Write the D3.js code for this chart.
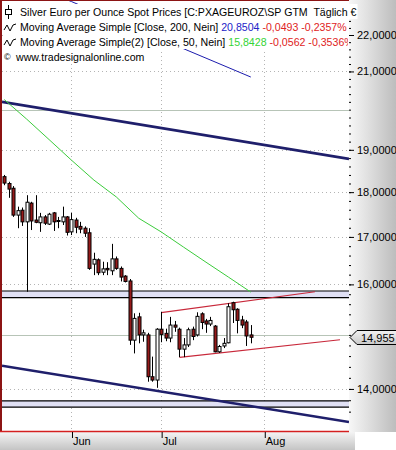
<!DOCTYPE html>
<html>

<head>
  <meta charset="UTF-8">
  <script src="https://d3js.org/d3.v7.js"></script>
  <style>
    body { margin: 0; background: #fff; }
    text { font-family: "Liberation Sans", Arial, sans-serif; font-size: 11px; }
  </style>
</head>

<body>
  <div id="chart"></div>

  <script>
    // data: silver in EUR per ounce, daily bars from Mon 13 May 2013

    const startDate = new Date(2013, 4, 13);

    const open = [18.36, 18.20, 18.09, 17.48, 17.59, 17.33, 17.75, 17.37, 17.31, 17.44,
      17.28, 17.53, 17.36, 17.33, 17.44, 17.11, 17.37, 17.23, 17.19, 17.09,
      16.42, 16.51, 16.25, 16.33, 16.28, 16.53, 16.33, 16.17, 16.07, 14.90,
      15.35, 15.00, 15.00, 14.22, 14.16, 15.11, 15.03, 14.94, 15.19, 15.11,
      14.73, 14.81, 15.11, 15.00, 15.41, 15.27, 15.21, 15.17, 14.68, 14.79,
      14.85, 15.63, 15.50, 15.29, 15.25, 15.00];
    const high = [18.40, 18.24, 18.14, 17.67, 17.65, 17.93, 17.78, 17.93, 17.53, 17.48,
      17.53, 17.55, 17.44, 17.67, 17.46, 17.53, 17.42, 17.33, 17.23, 17.19,
      16.66, 16.54, 16.47, 16.46, 16.85, 16.58, 16.37, 16.19, 16.11, 15.42,
      15.43, 15.10, 15.04, 14.59, 15.13, 15.45, 15.12, 15.35, 15.27, 15.14,
      14.94, 15.14, 15.16, 15.44, 15.44, 15.31, 15.35, 15.19, 14.81, 14.94,
      15.62, 15.65, 15.52, 15.37, 15.29, 15.19];
    const low = [18.16, 17.87, 17.44, 17.19, 17.24, 15.85, 17.15, 17.30, 17.11, 17.26,
      17.26, 17.13, 17.19, 17.26, 17.03, 17.04, 17.08, 17.08, 17.00, 16.30,
      16.19, 16.19, 16.19, 16.19, 16.19, 16.30, 16.06, 16.04, 14.81, 14.65,
      14.84, 14.87, 14.13, 14.13, 14.02, 14.86, 14.88, 14.86, 15.06, 14.58,
      14.58, 14.77, 14.90, 14.97, 15.11, 15.04, 15.17, 14.67, 14.66, 14.75,
      14.84, 15.23, 15.03, 15.13, 14.79, 14.84];
    const close = [18.21, 18.07, 17.48, 17.58, 17.33, 17.77, 17.35, 17.32, 17.44, 17.30,
      17.50, 17.33, 17.35, 17.44, 17.10, 17.38, 17.21, 17.17, 17.08, 16.33,
      16.52, 16.24, 16.32, 16.30, 16.53, 16.33, 16.15, 16.06, 14.90, 15.32,
      15.00, 15.04, 14.22, 14.16, 15.11, 15.01, 14.94, 15.19, 15.15, 14.73,
      14.81, 15.10, 14.97, 15.36, 15.24, 15.21, 15.28, 14.68, 14.78, 14.84,
      15.55, 15.49, 15.28, 15.19, 14.98, 14.955];

    // moving averages, read every few bars
    const ma50Bars = [0, 5, 10, 15, 20, 25, 30, 35, 40, 45, 50, 55];
    const ma50 = [20.26, 19.76, 19.25, 18.75, 18.28, 17.89, 17.41, 17.11, 16.78, 16.46, 16.15, 15.8428];
    const ma200Bars = [12, 15, 25, 35, 45, 55];
    const ma200 = [23.12, 22.96, 22.41, 21.88, 21.36, 20.8504];

    // drawn objects: [bar, price] end points
    const trendUpper = [[-0.5, 20.20], [76.9, 18.78]];
    const trendLower = [[-0.5, 14.42], [76.9, 13.42]];
    const channelUpper = [[35.0, 15.435], [69.3, 15.85]];
    const channelLower = [[39.1, 14.576], [74.9, 14.908]];
    const bandUpper = [15.73, 15.865];
    const bandLower = [13.68, 13.79];

    const yTicks = [14, 16, 17, 18, 19, 21, 22];
    const ySolid = [15, 20];
    const lastPrice = 14.955;

    // set up

    const W = 396, H = 450;
    const plot = { left: 2, right: 349, top: 0, bottom: 431 };

    const svg = d3.select('#chart')
      .append('svg')
        .attr('width', W)
        .attr('height', H);

    const defs = svg.append('defs');
    defs.append('clipPath').attr('id', 'clip')
      .append('rect')
        .attr('x', plot.left).attr('y', plot.top)
        .attr('width', plot.right - plot.left).attr('height', plot.bottom - plot.top);
    defs.append('clipPath').attr('id', 'clipLeg')
      .append('rect')
        .attr('x', 0).attr('y', 0)
        .attr('width', plot.right - 1).attr('height', plot.bottom);

    const gRight = defs.append('linearGradient').attr('id', 'gRight');
    gRight.append('stop').attr('offset', 0).attr('stop-color', '#f7f7f7');
    gRight.append('stop').attr('offset', 1).attr('stop-color', '#bdbdbd');
    const gBottom = defs.append('linearGradient').attr('id', 'gBottom')
      .attr('x1', 0).attr('x2', 0).attr('y1', 0).attr('y2', 1);
    gBottom.append('stop').attr('offset', 0).attr('stop-color', '#f4f4f4');
    gBottom.append('stop').attr('offset', 1).attr('stop-color', '#c4c4c4');
    const gMark = defs.append('linearGradient').attr('id', 'gMark')
      .attr('x1', 0).attr('x2', 0).attr('y1', 0).attr('y2', 1);
    gMark.append('stop').attr('offset', 0).attr('stop-color', '#f2f2f2');
    gMark.append('stop').attr('offset', 1).attr('stop-color', '#c8c8c8');

    // trading days (weekdays) from the start date
    const days = [];
    for (let d = new Date(startDate); days.length < 80; d.setDate(d.getDate() + 1)) {
      if (d.getDay() !== 0 && d.getDay() !== 6) days.push(new Date(d));
    }
    const monthStarts = days.map((d, i) => i)
      .filter(i => i > 0 && days[i].getMonth() !== days[i - 1].getMonth());

    const bars = open.map((o, i) => ({ i, o, h: high[i], l: low[i], c: close[i] }));

    // scales

    const x = d3.scaleLinear()
        .domain([-0.5, 76.9])
        .range([plot.left, plot.right]);

    const y = d3.scaleLog()
        .domain([13.268, 23.006])
        .range([plot.bottom, plot.top]);

    // backgrounds

    svg.append('rect')
        .attr('x', plot.right).attr('y', 0)
        .attr('width', W - plot.right).attr('height', plot.bottom + 1)
        .attr('fill', 'url(#gRight)');

    svg.append('rect')
        .attr('x', 0).attr('y', plot.bottom + 1)
        .attr('width', 355).attr('height', H - plot.bottom - 1)
        .attr('fill', 'url(#gBottom)');

    const chart = svg.append('g').attr('clip-path', 'url(#clip)');

    // grid

    chart.append('g')
      .selectAll('line')
      .data(yTicks)
      .join('line')
        .attr('x1', plot.left).attr('x2', plot.right)
        .attr('y1', d => Math.round(y(d)) + 0.5).attr('y2', d => Math.round(y(d)) + 0.5)
        .attr('stroke', '#b4b4b4')
        .attr('stroke-dasharray', '1,3');

    chart.append('g')
      .selectAll('line')
      .data(monthStarts)
      .join('line')
        .attr('x1', d => Math.round(x(d)) + 0.5).attr('x2', d => Math.round(x(d)) + 0.5)
        .attr('y1', plot.top).attr('y2', plot.bottom)
        .attr('stroke', '#b4b4b4')
        .attr('stroke-dasharray', '1,3');

    chart.append('g')
      .selectAll('line')
      .data(ySolid)
      .join('line')
        .attr('x1', plot.left).attr('x2', plot.right)
        .attr('y1', d => Math.round(y(d)) + 0.5).attr('y2', d => Math.round(y(d)) + 0.5)
        .attr('stroke', '#b7c4b7');

    // support bands

    [bandUpper, bandLower].forEach(b => {
      chart.append('rect')
          .attr('x', plot.left).attr('width', plot.right - plot.left)
          .attr('y', y(b[1])).attr('height', y(b[0]) - y(b[1]))
          .attr('fill', '#e0e0f4');
      chart.append('g')
        .selectAll('line')
        .data(b)
        .join('line')
          .attr('x1', plot.left).attr('x2', plot.right)
          .attr('y1', d => y(d)).attr('y2', d => y(d))
          .attr('stroke', '#000')
          .attr('stroke-width', 1.2);
    });

    // trend lines

    const seg = d3.line().x(d => x(d[0])).y(d => y(d[1]));

    [trendUpper, trendLower].forEach(t => {
      chart.append('path')
          .attr('d', seg(t))
          .attr('fill', 'none')
          .attr('stroke', '#1f1f6b')
          .attr('stroke-width', 2.6);
    });

    [channelUpper, channelLower].forEach(t => {
      chart.append('path')
          .attr('d', seg(t))
          .attr('fill', 'none')
          .attr('stroke', '#c8283a')
          .attr('stroke-width', 1.2);
    });

    // moving averages

    chart.append('path')
        .attr('d', seg(ma50Bars.map((b, i) => [b, ma50[i]])))
        .attr('fill', 'none')
        .attr('stroke', '#3ccc3c')
        .attr('stroke-width', 1);

    chart.append('path')
        .attr('d', seg(ma200Bars.map((b, i) => [b, ma200[i]])))
        .attr('fill', 'none')
        .attr('stroke', '#1c1cae')
        .attr('stroke-width', 1);

    // candles

    const candles = chart.append('g')
      .selectAll('g')
      .data(bars)
      .join('g');

    candles.append('line')
        .attr('x1', d => Math.round(x(d.i)) + 0.5).attr('x2', d => Math.round(x(d.i)) + 0.5)
        .attr('y1', d => y(d.h)).attr('y2', d => y(d.l))
        .attr('stroke', '#000')
        .attr('stroke-width', 1);

    candles.append('rect')
        .attr('x', d => Math.round(x(d.i)) - 1)
        .attr('width', 3)
        .attr('y', d => y(Math.max(d.o, d.c)))
        .attr('height', d => Math.max(1, y(Math.min(d.o, d.c)) - y(Math.max(d.o, d.c))))
        .attr('fill', d => d.c < d.o ? '#961a1a' : '#fff')
        .attr('stroke', '#000')
        .attr('stroke-width', 1);

    // frame

    svg.append('line')
        .attr('x1', 1).attr('x2', 1).attr('y1', 0).attr('y2', plot.bottom)
        .attr('stroke', '#8c1414').attr('stroke-width', 2);
    svg.append('line')
        .attr('x1', 0).attr('x2', plot.right).attr('y1', 0.5).attr('y2', 0.5)
        .attr('stroke', '#8c1414').attr('stroke-width', 1);
    svg.append('line')
        .attr('x1', 0).attr('x2', plot.right).attr('y1', plot.bottom + 0.5).attr('y2', plot.bottom + 0.5)
        .attr('stroke', '#d42020').attr('stroke-width', 1.5);

    // axes

    const de = d3.formatLocale({ decimal: ',', thousands: '.', grouping: [3], currency: ['', '€'] });

    const yMinor = svg.append('g')
        .attr('transform', `translate(${plot.right},0)`)
        .call(d3.axisRight(y).tickValues(d3.range(68, 115).map(k => k / 5)).tickSize(2).tickFormat(''));
    yMinor.select('.domain').remove();

    const yAxis = svg.append('g')
        .attr('transform', `translate(${plot.right},0)`)
        .call(d3.axisRight(y).tickValues(yTicks).tickSize(5).tickPadding(3).tickFormat(de.format('.4f')));
    yAxis.select('.domain').remove();
    yAxis.selectAll('text').attr('fill', '#000').style('font-size', '11px');

    const xAxis = svg.append('g')
        .attr('transform', `translate(0,${plot.bottom + 1})`)
        .call(d3.axisBottom(x).tickValues(monthStarts).tickSize(6)
          .tickFormat(i => d3.timeFormat('%b')(days[i])));
    xAxis.select('.domain').remove();
    xAxis.selectAll('.tick line').attr('transform', 'translate(0.5,0)');
    xAxis.selectAll('text')
        .attr('text-anchor', 'start')
        .attr('x', 1).attr('y', 5).attr('dy', '0.71em')
        .attr('fill', '#000').style('font-size', '11px');

    // last price marker

    const ly = Math.round(y(lastPrice)) + 0.5;
    svg.append('path')
        .attr('d', `M${plot.right + 1},${ly} L${plot.right + 8},${ly - 7} L${W + 2},${ly - 7} L${W + 2},${ly + 7} L${plot.right + 8},${ly + 7} Z`)
        .attr('fill', 'url(#gMark)')
        .attr('stroke', '#000')
        .attr('stroke-width', 1);
    svg.append('text')
        .attr('x', plot.right + 12).attr('y', ly + 4)
        .text(de.format('.3f')(lastPrice));

    // legend, each row on an opaque white strip

    const lines = [
      { y: 16, parts: [['Silver Euro per Ounce Spot Prices [C:PXAGEUROZ\\SP GTM  Täglich €', '#000']] },
      { y: 31, parts: [['Moving Average Simple [Close, 200, Nein] ', '#000'], ['20,8504', '#2323c8'], [' -0,0493 -0,2357%', '#e02323']] },
      { y: 46, parts: [['Moving Average Simple(2) [Close, 50, Nein] ', '#000'], ['15,8428', '#34d434'], [' -0,0562 -0,3536%', '#e02323']] },
      { y: 61, parts: [['www.tradesignalonline.com', '#000']] }
    ];

    const leg = svg.append('g');

    lines.forEach((l, k) => {
      const row = leg.append('g');
      if (k === 1 || k === 2) row.attr('clip-path', 'url(#clipLeg)');
      const bg = row.append('rect').attr('fill', '#fff');
      const t = row.append('text')
          .attr('x', k === 3 ? 16 : 20)
          .attr('y', l.y)
          .attr('xml:space', 'preserve')
          .style('font-size', '10.6px');
      l.parts.forEach(p => t.append('tspan').attr('fill', p[1]).text(p[0]));
      const b = t.node().getBBox();
      bg.attr('x', 3).attr('y', l.y - 12).attr('width', b.x + b.width - 2).attr('height', 15);
    });

    leg.append('line').attr('x1', 8.5).attr('x2', 8.5).attr('y1', 5).attr('y2', 19).attr('stroke', '#000');
    leg.append('rect').attr('x', 5.5).attr('y', 9.5).attr('width', 6).attr('height', 5)
        .attr('fill', '#fff').attr('stroke', '#000');

    [28, 43].forEach(cy => {
      leg.append('path')
          .attr('d', `M4,${cy + 2} L7,${cy - 3} L10,${cy + 3} L13,${cy - 3} L16,${cy - 4}`)
          .attr('fill', 'none')
          .attr('stroke', '#000')
          .attr('stroke-width', 1);
    });

    leg.append('text').attr('x', 4).attr('y', 60).style('font-size', '9px').text('©');

  </script>
</body>

</html>
